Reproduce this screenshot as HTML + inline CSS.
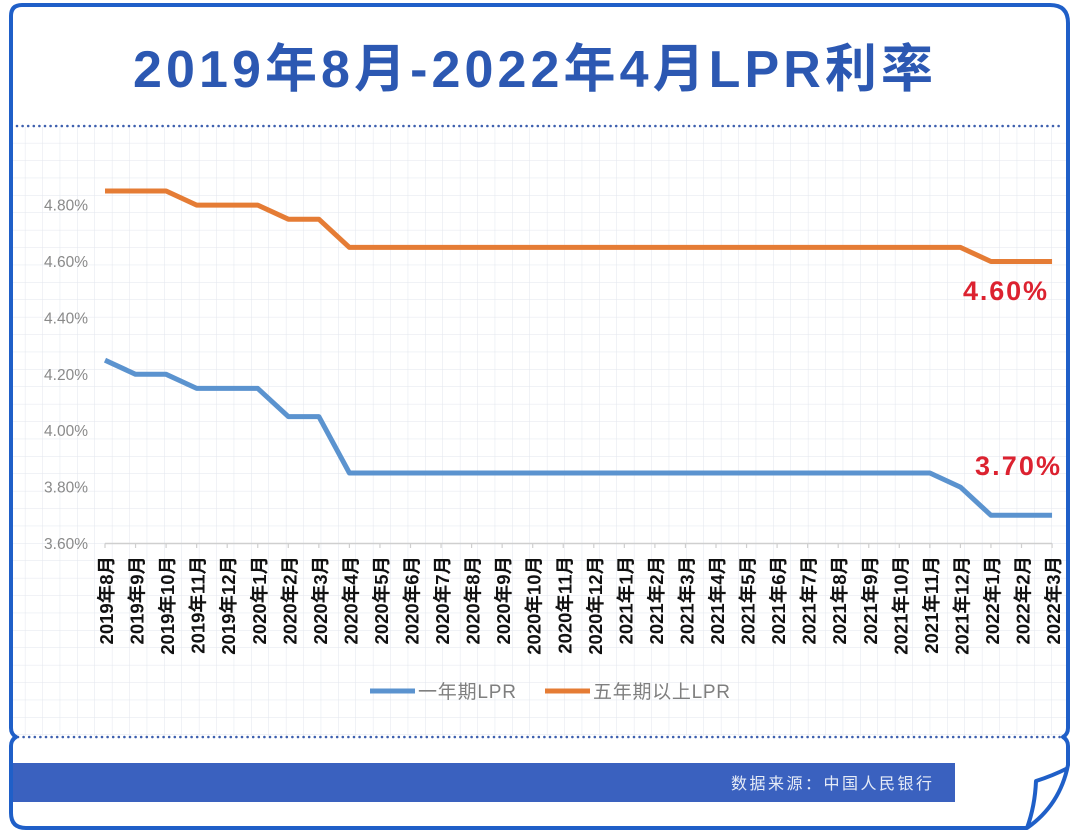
<!DOCTYPE html>
<html>
<head>
<meta charset="utf-8">
<style>
html,body{margin:0;padding:0;background:#fff;}
svg{display:block;}
text{font-family:"Liberation Sans","Noto Sans CJK SC",sans-serif;}
</style>
</head>
<body>
<svg width="1080" height="834" viewBox="0 0 1080 834" xmlns="http://www.w3.org/2000/svg">
<rect x="0" y="0" width="1080" height="834" fill="#ffffff"/>
<defs>
<pattern id="g" x="8" y="126" width="17.4" height="17.4" patternUnits="userSpaceOnUse">
<path d="M17.4 0V17.4M0 17.4H17.4" stroke="#e2e6ed" stroke-width="1" fill="none"/>
</pattern>
</defs>
<rect x="13" y="127" width="1053" height="609" fill="url(#g)"/>

<!-- Title -->
<text x="133" y="87" font-size="52" font-weight="bold" fill="#2c58b2" textLength="800" lengthAdjust="spacing">2019年8月-2022年4月LPR利率</text>

<!-- dotted separators -->
<line x1="17" y1="126" x2="1062" y2="126" stroke="#3d5fae" stroke-width="2.6" stroke-linecap="round" stroke-dasharray="0 5.6"/>
<line x1="18" y1="737" x2="1060" y2="737" stroke="#3d5fae" stroke-width="2.6" stroke-linecap="round" stroke-dasharray="0 5.6"/>

<!-- Y axis labels -->
<g font-size="15.5" fill="#8a8a8a" text-anchor="end">
<text x="88" y="210.6">4.80%</text>
<text x="88" y="267">4.60%</text>
<text x="88" y="323.4">4.40%</text>
<text x="88" y="379.8">4.20%</text>
<text x="88" y="436.2">4.00%</text>
<text x="88" y="492.6">3.80%</text>
<text x="88" y="549">3.60%</text>
</g>

<!-- X axis -->
<line x1="105" y1="543.5" x2="1052" y2="543.5" stroke="#cfcfcf" stroke-width="1.5"/>
<g stroke="#cfcfcf" stroke-width="1.2">
<line x1="105" y1="543.5" x2="105" y2="548"/><line x1="135.55" y1="543.5" x2="135.55" y2="548"/><line x1="166.1" y1="543.5" x2="166.1" y2="548"/><line x1="196.65" y1="543.5" x2="196.65" y2="548"/><line x1="227.2" y1="543.5" x2="227.2" y2="548"/><line x1="257.75" y1="543.5" x2="257.75" y2="548"/><line x1="288.3" y1="543.5" x2="288.3" y2="548"/><line x1="318.85" y1="543.5" x2="318.85" y2="548"/><line x1="349.4" y1="543.5" x2="349.4" y2="548"/><line x1="379.95" y1="543.5" x2="379.95" y2="548"/><line x1="410.5" y1="543.5" x2="410.5" y2="548"/><line x1="441.05" y1="543.5" x2="441.05" y2="548"/><line x1="471.6" y1="543.5" x2="471.6" y2="548"/><line x1="502.15" y1="543.5" x2="502.15" y2="548"/><line x1="532.7" y1="543.5" x2="532.7" y2="548"/><line x1="563.25" y1="543.5" x2="563.25" y2="548"/><line x1="593.8" y1="543.5" x2="593.8" y2="548"/><line x1="624.35" y1="543.5" x2="624.35" y2="548"/><line x1="654.9" y1="543.5" x2="654.9" y2="548"/><line x1="685.45" y1="543.5" x2="685.45" y2="548"/><line x1="716" y1="543.5" x2="716" y2="548"/><line x1="746.55" y1="543.5" x2="746.55" y2="548"/><line x1="777.1" y1="543.5" x2="777.1" y2="548"/><line x1="807.65" y1="543.5" x2="807.65" y2="548"/><line x1="838.2" y1="543.5" x2="838.2" y2="548"/><line x1="868.75" y1="543.5" x2="868.75" y2="548"/><line x1="899.3" y1="543.5" x2="899.3" y2="548"/><line x1="929.85" y1="543.5" x2="929.85" y2="548"/><line x1="960.4" y1="543.5" x2="960.4" y2="548"/><line x1="990.95" y1="543.5" x2="990.95" y2="548"/><line x1="1021.5" y1="543.5" x2="1021.5" y2="548"/><line x1="1052.05" y1="543.5" x2="1052.05" y2="548"/>
</g>

<g font-size="18.5" font-weight="bold" fill="#111" text-anchor="end">
<text transform="translate(113,556) rotate(-90)">2019年8月</text>
<text transform="translate(143.55,556) rotate(-90)">2019年9月</text>
<text transform="translate(174.1,556) rotate(-90)">2019年10月</text>
<text transform="translate(204.65,556) rotate(-90)">2019年11月</text>
<text transform="translate(235.2,556) rotate(-90)">2019年12月</text>
<text transform="translate(265.75,556) rotate(-90)">2020年1月</text>
<text transform="translate(296.3,556) rotate(-90)">2020年2月</text>
<text transform="translate(326.85,556) rotate(-90)">2020年3月</text>
<text transform="translate(357.4,556) rotate(-90)">2020年4月</text>
<text transform="translate(387.95,556) rotate(-90)">2020年5月</text>
<text transform="translate(418.5,556) rotate(-90)">2020年6月</text>
<text transform="translate(449.05,556) rotate(-90)">2020年7月</text>
<text transform="translate(479.6,556) rotate(-90)">2020年8月</text>
<text transform="translate(510.15,556) rotate(-90)">2020年9月</text>
<text transform="translate(540.7,556) rotate(-90)">2020年10月</text>
<text transform="translate(571.25,556) rotate(-90)">2020年11月</text>
<text transform="translate(601.8,556) rotate(-90)">2020年12月</text>
<text transform="translate(632.35,556) rotate(-90)">2021年1月</text>
<text transform="translate(662.9,556) rotate(-90)">2021年2月</text>
<text transform="translate(693.45,556) rotate(-90)">2021年3月</text>
<text transform="translate(724,556) rotate(-90)">2021年4月</text>
<text transform="translate(754.55,556) rotate(-90)">2021年5月</text>
<text transform="translate(785.1,556) rotate(-90)">2021年6月</text>
<text transform="translate(815.65,556) rotate(-90)">2021年7月</text>
<text transform="translate(846.2,556) rotate(-90)">2021年8月</text>
<text transform="translate(876.75,556) rotate(-90)">2021年9月</text>
<text transform="translate(907.3,556) rotate(-90)">2021年10月</text>
<text transform="translate(937.85,556) rotate(-90)">2021年11月</text>
<text transform="translate(968.4,556) rotate(-90)">2021年12月</text>
<text transform="translate(998.95,556) rotate(-90)">2022年1月</text>
<text transform="translate(1029.5,556) rotate(-90)">2022年2月</text>
<text transform="translate(1060.05,556) rotate(-90)">2022年3月</text>
</g>

<!-- Series -->
<polyline fill="none" stroke="#e57c35" stroke-width="5" stroke-linejoin="round" stroke-linecap="butt"
 points="105,191 166.1,191 196.65,205.1 257.75,205.1 288.3,219.2 318.85,219.2 349.4,247.4 960.4,247.4 990.95,261.5 1052.05,261.5"/>
<polyline fill="none" stroke="#5b93cf" stroke-width="5" stroke-linejoin="round" stroke-linecap="butt"
 points="105,360.2 135.55,374.3 166.1,374.3 196.65,388.4 257.75,388.4 288.3,416.6 318.85,416.6 349.4,473 929.85,473 960.4,487.1 990.95,515.3 1052.05,515.3"/>

<!-- Annotations -->
<text x="963" y="300" font-size="27" font-weight="bold" fill="#dc2230" textLength="84" lengthAdjust="spacing">4.60%</text>
<text x="975" y="475" font-size="27" font-weight="bold" fill="#dc2230" textLength="85" lengthAdjust="spacing">3.70%</text>

<!-- Legend -->
<line x1="370" y1="691" x2="415" y2="691" stroke="#5b93cf" stroke-width="5"/>
<text x="418" y="698" font-size="19" fill="#7f7f7f" textLength="98" lengthAdjust="spacing">一年期LPR</text>
<line x1="545" y1="691" x2="590" y2="691" stroke="#e57c35" stroke-width="5"/>
<text x="593" y="698" font-size="19" fill="#7f7f7f" textLength="137" lengthAdjust="spacing">五年期以上LPR</text>

<!-- Bottom bar -->
<rect x="13" y="763" width="942" height="39" fill="#3a61bf"/>
<text x="731" y="789" font-size="16" fill="#e6ecf7" textLength="201" lengthAdjust="spacing">数据来源：中国人民银行</text>

<!-- Frame -->
<path d="M 11,16 Q 11,5 22,5 L 1050,5 Q 1068,5 1068,23 L 1068,728 Q 1068,734 1063,737 Q 1068,740 1068,746 L 1068,765 Q 1060,805 1027,828 L 26,828 Q 11,828 11,813 L 11,746 Q 11,740 16,737 Q 11,734 11,728 Z"
 fill="none" stroke="#1f5fc8" stroke-width="4" stroke-linejoin="round"/>
<path d="M 1068,768 Q 1052,776 1036,781 Q 1035,806 1027,828" fill="none" stroke="#1f5fc8" stroke-width="4" stroke-linejoin="round"/>
</svg>
</body>
</html>
